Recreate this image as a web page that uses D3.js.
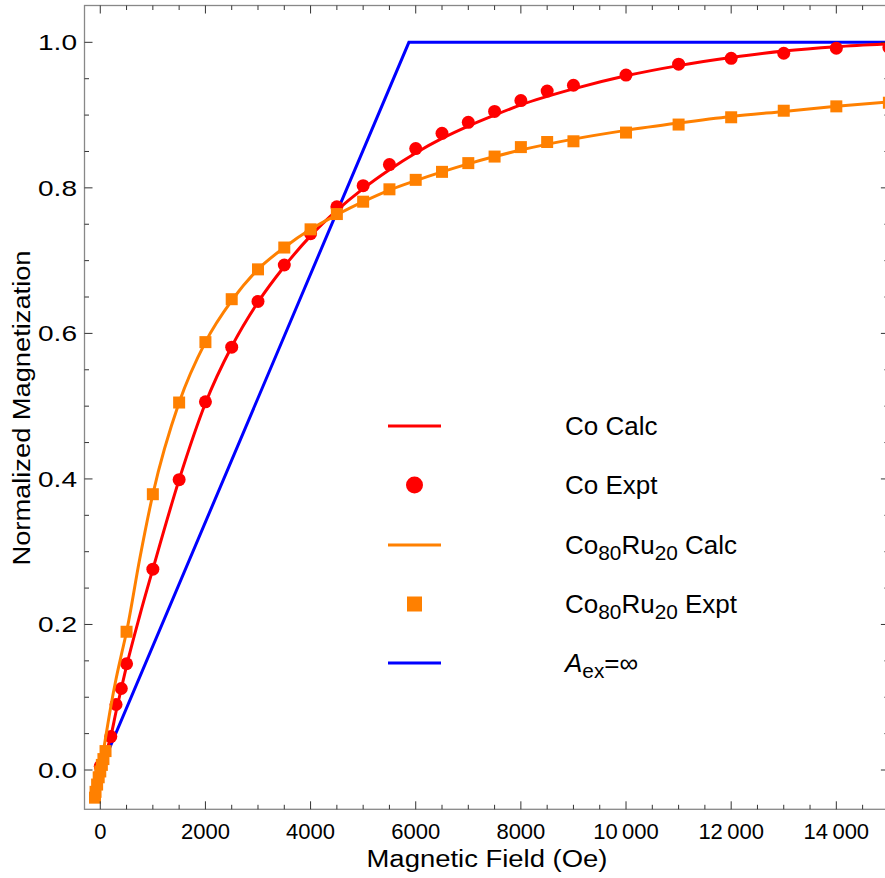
<!DOCTYPE html>
<html>
<head>
<meta charset="utf-8">
<script src="https://cdn.jsdelivr.net/npm/d3@7"></script>
<style>
  html, body { margin: 0; padding: 0; background: #fff; }
  svg text { font-family: "Liberation Sans", Arial, sans-serif; fill: #000; }
</style>
</head>
<body>
<svg id="chart" width="885" height="878"></svg>
<script>
// ---------- data ----------
const coExptField = [0, 200, 300, 400, 500, 1000, 1500, 2000, 2500, 3000, 3500, 4000, 4500, 5000, 5500, 6000, 6500, 7000, 7500, 8000, 8500, 9000, 10000, 11000, 12000, 13000, 14000, 15000];
const coExptMag   = [0.005, 0.046, 0.090, 0.112, 0.146, 0.276, 0.399, 0.506, 0.581, 0.644, 0.694, 0.737, 0.774, 0.803, 0.832, 0.854, 0.875, 0.890, 0.905, 0.920, 0.933, 0.941, 0.955, 0.970, 0.978, 0.985, 0.992, 0.993];

const coCalcField = [0, 100, 200, 300, 400, 500, 750, 1000, 1500, 2000, 2500, 3000, 3500, 4000, 4500, 5000, 5500, 6000, 6500, 7000, 7500, 8000, 9000, 10000, 11000, 12000, 13000, 14000, 15000];
const coCalcMag   = [0, 0.022, 0.046, 0.080, 0.112, 0.143, 0.212, 0.276, 0.399, 0.504, 0.582, 0.643, 0.692, 0.734, 0.769, 0.799, 0.825, 0.848, 0.868, 0.885, 0.900, 0.914, 0.936, 0.954, 0.968, 0.979, 0.988, 0.994, 0.998];

const ruExptField = [-100, -90, -60, -30, 0, 30, 60, 100, 500, 1000, 1500, 2000, 2500, 3000, 3500, 4000, 4500, 5000, 5500, 6000, 6500, 7000, 7500, 8000, 8500, 9000, 10000, 11000, 12000, 13000, 14000, 15000];
const ruExptMag   = [-0.038, -0.030, -0.020, -0.010, -0.002, 0.007, 0.015, 0.026, 0.190, 0.379, 0.505, 0.588, 0.647, 0.688, 0.718, 0.743, 0.764, 0.781, 0.798, 0.811, 0.822, 0.834, 0.843, 0.856, 0.863, 0.864, 0.876, 0.887, 0.897, 0.906, 0.912, 0.917];

const ruCalcField = [0, 100, 200, 300, 400, 500, 750, 1000, 1500, 2000, 2500, 3000, 3500, 4000, 4500, 5000, 5500, 6000, 6500, 7000, 7500, 8000, 9000, 10000, 11000, 12000, 13000, 14000, 15000];
const ruCalcMag   = [0, 0.044, 0.087, 0.125, 0.158, 0.190, 0.290, 0.379, 0.505, 0.588, 0.645, 0.688, 0.718, 0.743, 0.763, 0.781, 0.797, 0.810, 0.822, 0.833, 0.843, 0.852, 0.867, 0.879, 0.889, 0.898, 0.905, 0.912, 0.918];

const infField = [0, 5870, 15000];
const infMag   = [0, 1.0, 1.0];

const xMajorTicks = [0, 2000, 4000, 6000, 8000, 10000, 12000, 14000];
const xTickLabels = ["0", "2000", "4000", "6000", "8000", "10\u2009000", "12\u2009000", "14\u2009000"];
const yMajorTicks = [0.0, 0.2, 0.4, 0.6, 0.8, 1.0];
const yTickLabels = ["0.0", "0.2", "0.4", "0.6", "0.8", "1.0"];

// ---------- layout ----------
const svg = d3.select("#chart");
const x = d3.scaleLinear().domain([-300, 15000]).range([84.5, 888.9]);
const y = d3.scaleLinear().domain([-0.054, 1.0506]).range([809.3, 5.5]);

const RED = "rgb(255,0,0)", ORANGE = "rgb(255,128,0)", BLUE = "rgb(0,0,255)";
const FRAME = "#888";

const zip = (a, b) => a.map((v, i) => [v, b[i]]);
const line = d3.line().x(d => x(d[0])).y(d => y(d[1]));
const smooth = d3.line().x(d => x(d[0])).y(d => y(d[1])).curve(d3.curveMonotoneX);

const plot = svg.append("g");

// blue A_ex = infinity line
plot.append("path").datum(zip(infField, infMag)).attr("d", line)
  .attr("fill", "none").attr("stroke", BLUE).attr("stroke-width", 3);

// Co calc + expt
plot.append("path").datum(zip(coCalcField, coCalcMag)).attr("d", smooth)
  .attr("fill", "none").attr("stroke", RED).attr("stroke-width", 3);
plot.selectAll("circle.co").data(zip(coExptField, coExptMag)).enter().append("circle")
  .attr("class", "co").attr("cx", d => x(d[0])).attr("cy", d => y(d[1])).attr("r", 6.5).attr("fill", RED);

// CoRu calc + expt
plot.append("path").datum(zip(ruCalcField, ruCalcMag)).attr("d", smooth)
  .attr("fill", "none").attr("stroke", ORANGE).attr("stroke-width", 3);
const sq = 12;
plot.selectAll("rect.ru").data(zip(ruExptField, ruExptMag)).enter().append("rect")
  .attr("class", "ru").attr("x", d => x(d[0]) - sq / 2).attr("y", d => y(d[1]) - sq / 2)
  .attr("width", sq).attr("height", sq).attr("fill", ORANGE);

// ---------- frame & ticks ----------
const [x0, x1] = x.range(), [y0, y1] = y.range();
const frame = svg.append("g");
frame.append("rect").attr("x", x0).attr("y", y1).attr("width", x1 - x0).attr("height", y0 - y1)
  .attr("fill", "none").attr("stroke", FRAME).attr("stroke-width", 1.3);

const xMinor = d3.range(0, 15001, 500).filter(v => !xMajorTicks.includes(v));
const yMinor = d3.range(0, 21).map(i => +(i * 0.05).toFixed(2)).filter(v => !yMajorTicks.some(t => Math.abs(t - v) < 1e-9));

function xTicks(vals, len) {
  vals.forEach(v => {
    frame.append("line").attr("x1", x(v)).attr("x2", x(v)).attr("y1", y0).attr("y2", y0 - len)
      .attr("stroke", "#333").attr("stroke-width", 1);
    frame.append("line").attr("x1", x(v)).attr("x2", x(v)).attr("y1", y1).attr("y2", y1 + len)
      .attr("stroke", "#333").attr("stroke-width", 1);
  });
}
function yTicks(vals, len) {
  vals.forEach(v => {
    frame.append("line").attr("x1", x0).attr("x2", x0 + len).attr("y1", y(v)).attr("y2", y(v))
      .attr("stroke", "#333").attr("stroke-width", 1);
    frame.append("line").attr("x1", x1).attr("x2", x1 - len).attr("y1", y(v)).attr("y2", y(v))
      .attr("stroke", "#333").attr("stroke-width", 1);
  });
}
xTicks(xMajorTicks, 8); xTicks(xMinor, 4.5);
yTicks(yMajorTicks, 8); yTicks(yMinor, 4.5);

// tick labels
xMajorTicks.forEach((v, i) => {
  frame.append("text").attr("x", x(v)).attr("y", 839).attr("text-anchor", "middle")
    .attr("font-size", 22).text(xTickLabels[i]);
});
yMajorTicks.forEach((v, i) => {
  frame.append("text").attr("x", 77).attr("y", y(v) + 8).attr("text-anchor", "end")
    .attr("font-size", 22).attr("textLength", 39).attr("lengthAdjust", "spacingAndGlyphs")
    .text(yTickLabels[i]);
});

// axis titles
svg.append("text").attr("x", 487).attr("y", 867).attr("text-anchor", "middle")
  .attr("font-size", 23).attr("textLength", 241).attr("lengthAdjust", "spacingAndGlyphs")
  .text("Magnetic Field (Oe)");
svg.append("text").attr("transform", "translate(30,408) rotate(-90)").attr("text-anchor", "middle")
  .attr("font-size", 23).attr("textLength", 315).attr("lengthAdjust", "spacingAndGlyphs")
  .text("Normalized Magnetization");

// ---------- legend ----------
const leg = svg.append("g");
const legY = [426, 485, 545, 604, 663];
const lx0 = 388, lx1 = 441, tx = 565, fs = 26, sub = 0.8;
leg.append("line").attr("x1", lx0).attr("x2", lx1).attr("y1", legY[0]).attr("y2", legY[0]).attr("stroke", RED).attr("stroke-width", 3);
leg.append("circle").attr("cx", (lx0 + lx1) / 2).attr("cy", legY[1]).attr("r", 8.5).attr("fill", RED);
leg.append("line").attr("x1", lx0).attr("x2", lx1).attr("y1", legY[2]).attr("y2", legY[2]).attr("stroke", ORANGE).attr("stroke-width", 3);
leg.append("rect").attr("x", (lx0 + lx1) / 2 - 7.5).attr("y", legY[3] - 7.5).attr("width", 15).attr("height", 15).attr("fill", ORANGE);
leg.append("line").attr("x1", lx0).attr("x2", lx1).attr("y1", legY[4]).attr("y2", legY[4]).attr("stroke", BLUE).attr("stroke-width", 3);

function legText(i) { return leg.append("text").attr("x", tx).attr("y", legY[i] + 9).attr("font-size", fs); }
legText(0).text("Co Calc");
legText(1).text("Co Expt");
function coRu(t, suffix) {
  t.append("tspan").text("Co");
  t.append("tspan").attr("font-size", fs * sub).attr("dy", 6).text("80");
  t.append("tspan").attr("dy", -6).text("Ru");
  t.append("tspan").attr("font-size", fs * sub).attr("dy", 6).text("20");
  t.append("tspan").attr("dy", -6).text(" " + suffix);
}
coRu(legText(2), "Calc");
coRu(legText(3), "Expt");
const t5 = legText(4);
t5.append("tspan").attr("font-style", "italic").text("A");
t5.append("tspan").attr("font-size", fs * sub).attr("dy", 6).text("ex");
t5.append("tspan").attr("dy", -6).text("=\u221E");
</script>
</body>
</html>
